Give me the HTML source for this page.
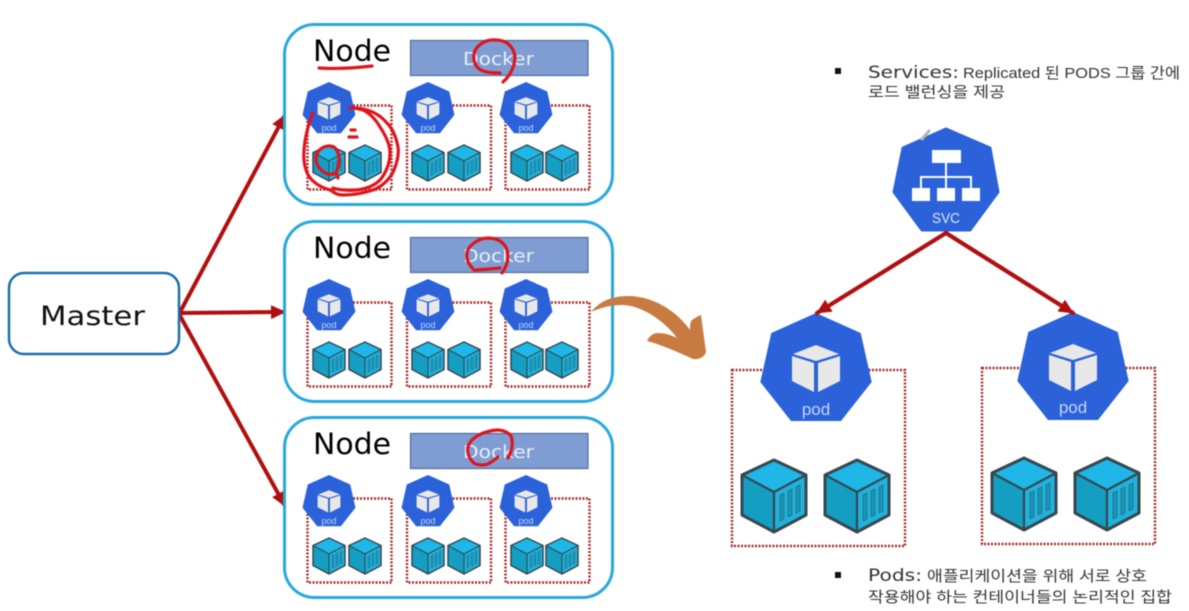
<!DOCTYPE html>
<html lang="ko">
<head>
<meta charset="utf-8">
<style>
html,body{margin:0;padding:0;background:#fff;width:1189px;height:611px;overflow:hidden}
svg{display:block;filter:blur(.45px)}
text{font-family:"Liberation Sans","Noto Sans CJK KR",sans-serif}
.wide{font-family:"DejaVu Sans","Liberation Sans",sans-serif}
.kr{fill:#333;font-size:15px}
.podt{fill:#c5d6f3}
.dot{fill:none;stroke:#a52a2a;stroke-width:2.4;stroke-dasharray:2 1.5}
.nb{fill:#fff;stroke:#27a9de;stroke-width:3}
.dk{fill:#7f9dd2;stroke:#4f6d9e;stroke-width:1.2}
.dkt{fill:#e8eef8;font-size:18px}
.nt{fill:#000;font-size:29px}
.sc{fill:none;stroke:#e0141c;stroke-width:3.2;stroke-linecap:round;stroke-linejoin:round}
</style>
</head>
<body>
<svg width="1189" height="611" viewBox="0 0 1189 611" xmlns="http://www.w3.org/2000/svg">
<defs>
  <g id="pod">
    <polygon points="0,0 44.7,20 55.7,69 25,108 -25,108 -55.7,69 -44.7,20" fill="#2b62d9"/>
    <polygon points="0,32 23,41 0,48 -23,41" fill="#e8e8e8"/>
    <polygon points="-24,43 -2,50 -2,79 -24,68" fill="#e8e8e8"/>
    <polygon points="24,43 2,50 2,79 24,68" fill="#e8e8e8"/>
  </g>
  <g id="ctr" stroke-linejoin="round">
    <polygon points="0,-36 32,-21 0,-4 -32,-21" fill="#1fb7e8"/>
    <polygon points="-32,-21 0,-4 0,36 -32,19" fill="#149fc2"/>
    <polygon points="32,-21 0,-4 0,36 32,19" fill="#20b2de"/>
    <g fill="#1796b8" stroke="#2c6b80" stroke-width=".8">
      <polygon points="6,-1 10,-3 10,23 6,25"/>
      <polygon points="14,-5 18,-7 18,19 14,21"/>
      <polygon points="22,-9 26,-11 26,15 22,17"/>
    </g>
    <polygon points="0,-36 32,-21 32,19 0,36 -32,19 -32,-21" fill="none" stroke="#37474f" stroke-width="3"/>
    <path d="M-32,-21 L0,-4 L32,-21 M0,-4 L0,36" fill="none" stroke="#37474f" stroke-width="2.2"/>
  </g>
  <g id="nodeShapes">
    <rect class="nb" x="284.5" y="24.5" width="328" height="180" rx="30"/>
    <rect class="dk" x="410.5" y="40.5" width="177.500" height="35"/>
    <rect class="dot" x="307.500" y="105.500" width="84" height="84"/>
    <rect class="dot" x="407" y="105.500" width="84" height="84"/>
    <rect class="dot" x="505.500" y="105.500" width="84" height="84"/>
    <use href="#pod" transform="translate(329,82) scale(.475)"/>
    <use href="#pod" transform="translate(428,82) scale(.475)"/>
    <use href="#pod" transform="translate(526,82) scale(.475)"/>
    <use href="#ctr" transform="translate(329,163) scale(.5)"/>
    <use href="#ctr" transform="translate(365,163) scale(.5)"/>
    <use href="#ctr" transform="translate(428,163) scale(.5)"/>
    <use href="#ctr" transform="translate(464,163) scale(.5)"/>
    <use href="#ctr" transform="translate(527,163) scale(.5)"/>
    <use href="#ctr" transform="translate(562,163) scale(.5)"/>
  </g>
  <marker id="ah" markerUnits="userSpaceOnUse" markerWidth="16" markerHeight="14" refX="14" refY="7" orient="auto">
    <polygon points="0,0 15,7 0,14" fill="#b00f0f"/>
  </marker>
</defs>

<!-- Master arrows -->
<g stroke="#b00f0f" stroke-width="4" fill="none" stroke-linecap="round">
  <line x1="179" y1="314" x2="285" y2="115" marker-end="url(#ah)"/>
  <line x1="179" y1="313" x2="285" y2="312" marker-end="url(#ah)"/>
  <line x1="179" y1="314" x2="285" y2="506" marker-end="url(#ah)"/>
</g>

<!-- Master -->
<rect x="9" y="273" width="170" height="81" rx="15" fill="#fff" stroke="#1a6fb0" stroke-width="2.500"/>
<text class="wide" x="40" y="325" font-size="27" fill="#111" textLength="105" lengthAdjust="spacingAndGlyphs">Master</text>

<!-- Node 1 -->
<g>
  <use href="#nodeShapes"/>
  <text class="wide nt" x="313" y="61" textLength="78" lengthAdjust="spacingAndGlyphs">Node</text>
  <text class="wide dkt" x="463" y="65" textLength="71" lengthAdjust="spacingAndGlyphs">Docker</text>
  <text class="podt" x="329" y="131" font-size="9" text-anchor="middle">pod</text>
  <text class="podt" x="428" y="131" font-size="9" text-anchor="middle">pod</text>
  <text class="podt" x="526" y="131" font-size="9" text-anchor="middle">pod</text>
</g>
<!-- Node 2 -->
<g transform="translate(0,197)">
  <use href="#nodeShapes"/>
  <text class="wide nt" x="313" y="61" textLength="78" lengthAdjust="spacingAndGlyphs">Node</text>
  <text class="wide dkt" x="463" y="65" textLength="71" lengthAdjust="spacingAndGlyphs">Docker</text>
  <text class="podt" x="329" y="131" font-size="9" text-anchor="middle">pod</text>
  <text class="podt" x="428" y="131" font-size="9" text-anchor="middle">pod</text>
  <text class="podt" x="526" y="131" font-size="9" text-anchor="middle">pod</text>
</g>
<!-- Node 3 -->
<g transform="translate(0,393)">
  <use href="#nodeShapes"/>
  <text class="wide nt" x="313" y="61" textLength="78" lengthAdjust="spacingAndGlyphs">Node</text>
  <text class="wide dkt" x="463" y="65" textLength="71" lengthAdjust="spacingAndGlyphs">Docker</text>
  <text class="podt" x="329" y="131" font-size="9" text-anchor="middle">pod</text>
  <text class="podt" x="428" y="131" font-size="9" text-anchor="middle">pod</text>
  <text class="podt" x="526" y="131" font-size="9" text-anchor="middle">pod</text>
</g>

<!-- Red scribbles -->
<path class="sc" d="M319,68 C335,69 355,68 372,66"/>
<path class="sc" d="M500,73 C488,73 476,72 474,60 C472,47 484,39 496,40 C508,40 514,48 515,57 C515,66 510,76 503,82"/>
<path class="sc" d="M500,268 C490,269 480,270 474,270 C468,264 466,258 467,253 C468,246 478,238 488,238 C498,238 505,243 507,250 C509,258 507,266 502,273"/>
<path class="sc" d="M498,457 C493,461 488,465 483,465 C477,465 474,464 472,461 C468,456 467,452 468,447 C470,438 483,431 497,430 C505,430 512,434 512,440 C513,447 511,452 508,458"/>
<path class="sc" d="M313,113 C306,130 303,148 304,160 C305,170 308,176 312,180 C318,186 324,188 330,190 C334,192 336,195 343,195 C352,195 364,193 373,190 C384,186 391,177 394,170 C398,160 399,153 398,147 C396,136 392,128 387,123 C381,116 374,112 367,110 C360,108 354,108 350,108 C356,108 360,109 363,110 C371,114 376,120 380,127 C386,136 390,145 390,153 C390,163 386,173 380,180 C374,186 365,189 357,190 C348,191 340,190 333,188"/>
<path class="sc" d="M334,174 C324,176 316,167 316,158 C317,148 327,144 334,147 C340,152 341,163 336,172 L338,178"/>
<path class="sc" d="M351,130 L355,130 M349,137 L357,137" stroke-width="2.4"/>

<!-- Orange arrow -->
<path d="M591,312 C600,301 612,296 628,296 C652,296 676,310 690,330 C690,326 690,322 692,320 C695,318 698,316 701,315 L706,352 C705,356 700,360 693,359 C680,353 662,345 647,341 C650,335 654,333 658,333 C665,333 671,335 677,338 C667,324 645,306 623,305 C610,305 600,308 591,312 Z" fill="#c87b41"/>

<!-- Services text -->
<rect x="835" y="68" width="6" height="6" fill="#111"/>
<text class="wide" x="868" y="78" font-size="17" fill="#333" textLength="91" lengthAdjust="spacingAndGlyphs">Services:</text>
<text class="kr" x="963" y="78" textLength="217" lengthAdjust="spacingAndGlyphs">Replicated 된 PODS 그룹 간에</text>
<text class="kr" x="868" y="97" textLength="137" lengthAdjust="spacingAndGlyphs">로드 밸런싱을 제공</text>

<!-- SVC -->
<polygon points="946,129 990,148 998,192 970,230 922,230 894,192 903,148" fill="#2b62d9" stroke="#2b62d9" stroke-width="3" stroke-linejoin="round"/>
<path d="M922,139 L929,131" stroke="#b5b5b5" stroke-width="3" stroke-linecap="round"/>
<g fill="#fff">
  <rect x="932" y="150" width="29" height="13"/>
  <rect x="912" y="188" width="18" height="13"/>
  <rect x="937" y="188" width="18" height="13"/>
  <rect x="962" y="188" width="18" height="13"/>
</g>
<path d="M946,163 V188 M921,188 V177 H971 V188" fill="none" stroke="#fff" stroke-width="2"/>
<text x="946" y="223" font-size="15" fill="#dbe6f8" text-anchor="middle" textLength="28" lengthAdjust="spacingAndGlyphs">SVC</text>

<!-- Right dotted boxes -->
<rect class="dot" x="732" y="370" width="173" height="176"/>
<rect class="dot" x="982" y="368" width="173" height="176"/>

<!-- Big pods -->
<use href="#pod" transform="translate(816,313)"/>
<text class="podt" x="816" y="415" font-size="17" text-anchor="middle">pod</text>
<use href="#pod" transform="translate(1073,312)"/>
<text class="podt" x="1073" y="413" font-size="17" text-anchor="middle">pod</text>

<!-- Big containers -->
<use href="#ctr" transform="translate(774,496)"/>
<use href="#ctr" transform="translate(857,496)"/>
<use href="#ctr" transform="translate(1024,494)"/>
<use href="#ctr" transform="translate(1107,494)"/>

<!-- SVC arrows -->
<g stroke="#b00f0f" stroke-width="4.2" fill="none" stroke-linecap="round">
  <line x1="946" y1="233" x2="817" y2="313" marker-end="url(#ah)"/>
  <line x1="946" y1="233" x2="1073" y2="313" marker-end="url(#ah)"/>
</g>

<!-- Pods text -->
<rect x="835" y="572" width="6" height="6" fill="#111"/>
<text class="wide" x="868" y="581" font-size="17" fill="#333" textLength="54" lengthAdjust="spacingAndGlyphs">Pods:</text>
<text class="kr" x="927" y="581" textLength="220" lengthAdjust="spacingAndGlyphs">애플리케이션을 위해 서로 상호</text>
<text class="kr" x="868" y="602" textLength="304" lengthAdjust="spacingAndGlyphs">작용해야 하는 컨테이너들의 논리적인 집합</text>
</svg>
</body>
</html>
